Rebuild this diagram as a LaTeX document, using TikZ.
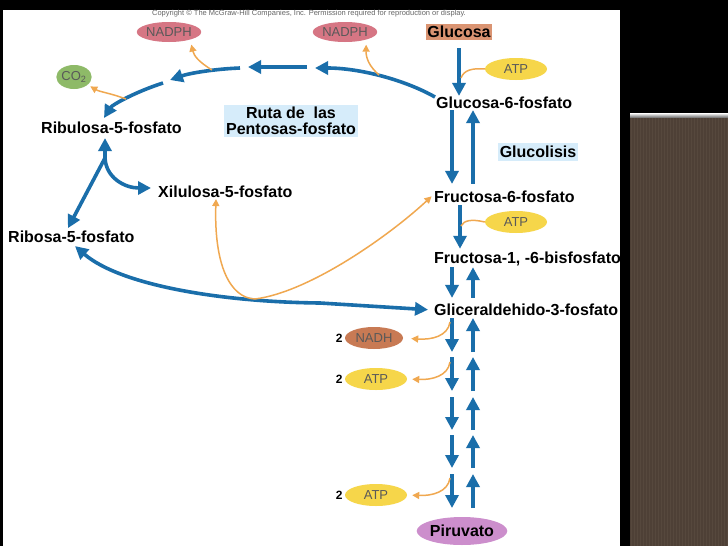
\documentclass[tikz,border=0pt]{standalone}
\usepackage{fontspec}
\setmainfont{Liberation Sans}
\usetikzlibrary{calc,arrows.meta,positioning,shapes.geometric}
\definecolor{flowblue}{RGB}{26,110,170}
\definecolor{sideorange}{RGB}{240,168,80}
\definecolor{nadph}{RGB}{214,118,132}
\definecolor{atp}{RGB}{246,214,74}
\definecolor{nadh}{RGB}{200,122,84}
\definecolor{co2}{RGB}{142,186,104}
\definecolor{piru}{RGB}{204,142,204}
\definecolor{glucbox}{RGB}{218,148,114}
\definecolor{paleblue}{RGB}{214,236,250}
\definecolor{panelbrown}{RGB}{78,64,54}
\definecolor{panelline}{RGB}{86,72,61}
\newcommand{\labfont}{\bfseries\fontsize{16}{16}\selectfont}

\begin{document}
\begin{tikzpicture}[x=1pt,y=-1pt,
	flow/.style={draw=flowblue,line width=3.6pt,>={Triangle[length=13pt,width=13pt]},->},
	sidearrow/.style={draw=sideorange,line width=1.5pt,>={Triangle[length=7pt,width=7pt]},->},
	txt/.style={font=\labfont,inner sep=1pt,anchor=west},
	cof/.style={ellipse,inner sep=0pt,minimum width=62pt,minimum height=22pt,text=black!65,font=\fontsize{13}{14}\selectfont},
	tag/.style={fill=paleblue,inner sep=2pt,font=\labfont,align=center}]

	%% (0) page, frame and the brown panel on the right
	\useasboundingbox (0,0) rectangle (728,546);
	\fill[black] (0,0) rectangle (728,546);
	\fill[white] (3,10) rectangle (620,546);
	\fill[panelbrown] (630,117) rectangle (728,546);
	\foreach \x in {631,634,...,727}
	  \draw[panelline,line width=1pt] (\x,117) -- (\x,546);
	\shade[top color=white,bottom color=gray] (630,113) rectangle (728,117);

	\node[font=\fontsize{7.5}{8}\selectfont,text=black!60] (cr) at (309,14)
	  {Copyright © The McGraw-Hill Companies, Inc. Permission required for reproduction or display.};

	%% (1) glycolysis chain
	\node[fill=glucbox,inner sep=1pt,minimum height=16pt,font=\labfont] (G1) at (459,32) {Glucosa};
	\node[txt] (G2) at (435,103) {Glucosa-6-fosfato};
	\node[txt] (G3) at (433,197) {Fructosa-6-fosfato};
	\node[txt] (G4) at (433,259) {Fructosa-1, -6-bisfosfato};
	\node[txt] (G5) at (433,310) {Gliceraldehido-3-fosfato};
	\node[ellipse,fill=piru,minimum width=90pt,minimum height=28pt,inner sep=0pt,font=\labfont] (G6) at (462,531) {Piruvato};

	%% (2) pentose phosphate side
	\node[txt] (P1) at (40,128) {Ribulosa-5-fosfato};
	\node[txt] (P2) at (157,192) {Xilulosa-5-fosfato};
	\node[txt] (P3) at (7,237) {Ribosa-5-fosfato};

	\node[tag] (T1) at (291,121) {Ruta de\ \ las\\Pentosas-fosfato};
	\node[tag,minimum height=18pt] (T2) at (538,152) {Glucolisis};

	%% (3) cofactors
	\node[cof,fill=nadph,minimum height=20pt] (E1) at (169,32) {NADPH};
	\node[cof,fill=nadph,minimum height=20pt] (E2) at (345,32) {NADPH};
	\node[cof,fill=atp] (E3) at (516,69) {ATP};
	\node[cof,fill=atp] (E4) at (516,222) {ATP};
	\node[cof,fill=nadh,minimum width=58pt] (E5) at (374,338) {NADH};
	\node[cof,fill=atp] (E6) at (376,379) {ATP};
	\node[cof,fill=atp] (E7) at (376,495) {ATP};
	\node[cof,fill=co2,minimum width=31pt,minimum height=24pt] (E8) at (74,77) {CO\textsubscript{2}};

	\node[font=\bfseries\fontsize{12}{14}\selectfont,inner sep=1pt,left=1pt of E5] (n5) {2};
	\node[font=\bfseries\fontsize{12}{14}\selectfont,inner sep=1pt,left=1pt of E6] (n6) {2};
	\node[font=\bfseries\fontsize{12}{14}\selectfont,inner sep=1pt,left=1pt of E7] (n7) {2};

	%% (4) the vertical lines of the chain
	\coordinate (L) at (452,0); % down
	\coordinate (M) at (460,0);
	\coordinate (R) at (473,0); % up

	\draw[flow,shorten <=8pt] (G1.south) -- (G1.south |- G2.north);
	\draw[flow,shorten >=6pt] (L |- G2.south) -- (L |- G3.north);
	\draw[flow,shorten <=6pt] (R |- G3.north) -- (R |- G2.south);
	\draw[flow,shorten <=1pt,shorten >=2pt] (M |- G3.south) -- (M |- G4.north);
	\draw[flow,shorten >=5pt] (L |- G4.south) -- (L |- G5.north);
	\draw[flow,shorten <=5pt] (R |- G5.north) -- (R |- G4.south);
	\foreach \ya/\yb in {318/352,357/391,397/430,435/468,474/508}{
	  \draw[flow] (L |- 0,\ya) -- (L |- 0,\yb);
	  \draw[flow] (R |- 0,\yb) -- (R |- 0,\ya);
	}

	% ATP goes in
	\coordinate (K1) at (461,78);
	\coordinate (K2) at (461,226);
	\draw[sidearrow,-] (E3.west) .. controls (472,68) and (464,70) .. (K1);
	\draw[sidearrow,-] (E4.west) .. controls (472,219) and (464,220) .. (K2);

	% NADH, ATP come out
	\coordinate (H1) at (450,322);
	\coordinate (H2) at (450,362);
	\coordinate (H3) at (450,478);
	\draw[sidearrow,shorten >=8pt] (H1) .. controls (448,336) and (432,340) .. (E5.east);
	\draw[sidearrow,shorten >=5pt] (H2) .. controls (448,376) and (432,380) .. (E6.east);
	\draw[sidearrow,shorten >=5pt] (H3) .. controls (448,492) and (432,496) .. (E7.east);

	%% (5) the oxidative arc, in four pieces
	\coordinate (A1) at ([yshift=6pt]G2.west);
	\coordinate (A2) at (315,68);
	\coordinate (A3) at (307,67);
	\coordinate (A4) at (248,67);
	\coordinate (A5) at (240,68);
	\coordinate (A6) at (170,80);
	\coordinate (A7) at (163,83);
	\coordinate (A8) at (104,118);

	\draw[flow] (A1) .. controls (405,80) and (360,68) .. (A2);
	\draw[flow] (A3) -- (A4);
	\draw[flow] (A5) .. controls (215,69) and (190,73) .. (A6);
	\draw[flow] (A7) .. controls (135,92) and (112,105) .. (A8);

	\coordinate (B1) at (379,75);
	\coordinate (B2) at (212,70);
	\coordinate (B3) at (126,99);
	\draw[sidearrow,shorten >=5pt] (B1) .. controls (369,66) and (366,58) .. (E2.-20);
	\draw[sidearrow,shorten >=5pt] (B2) .. controls (199,62) and (194,56) .. (E1.-20);
	\draw[sidearrow,shorten >=3pt] (B3) .. controls (110,93) and (100,92) .. (E8.-30);

	%% (6) ribulose fork
	\coordinate (J) at (105,158);
	\draw[flow,shorten >=3pt] (J) -- (J |- P1.south);
	\draw[flow,shorten >=6pt] (J) .. controls (106,178) and (125,188) .. ([yshift=4pt]P2.west);
	\draw[flow,shorten >=2pt] (J) -- ([xshift=60pt]P3.north west);

	%% (7) back to glycolysis
	\draw[flow,<->,shorten >=5pt] ([xshift=68pt,yshift=-2pt]P3.south west)
	  .. controls (120,285) and (220,302) .. (320,303) -- (G5.west);
	\draw[sidearrow,<->,shorten >=2pt] ([xshift=59pt]P2.south west)
	  .. controls (214,265) and (230,298) .. (255,299)
	  .. controls (310,292) and (390,235) .. ([yshift=2pt]G3.west);

\end{tikzpicture}
\end{document}
